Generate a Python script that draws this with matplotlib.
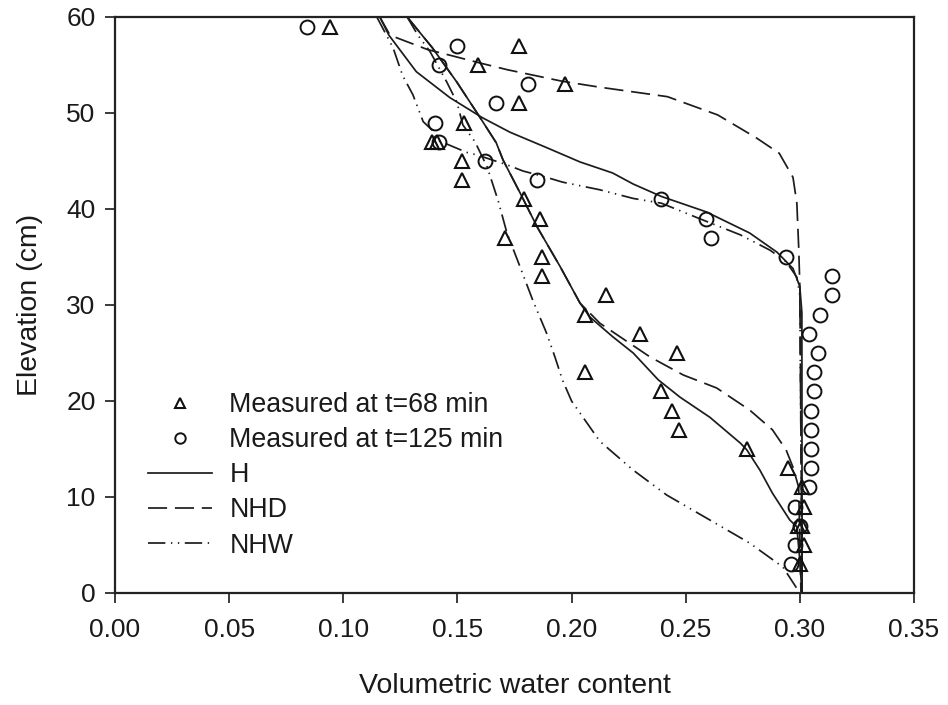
import matplotlib
matplotlib.use("Agg")
import matplotlib.pyplot as plt
from matplotlib.ticker import FormatStrFormatter

plt.rcParams['font.family'] = ['Liberation Sans', 'DejaVu Sans']

# Measured data
t68_x = [0.094, 0.177, 0.159, 0.197, 0.177, 0.153, 0.139, 0.141, 0.152, 0.152, 0.179, 0.186,
         0.171, 0.187, 0.187, 0.215, 0.206, 0.230, 0.246, 0.206, 0.239, 0.244, 0.247, 0.277,
         0.295, 0.301, 0.302, 0.299, 0.301, 0.302, 0.300]
t68_y = [59, 57, 55, 53, 51, 49, 47, 47, 45, 43, 41, 39, 37, 35, 33, 31, 29, 27, 25, 23, 21, 19,
         17, 15, 13, 11, 9, 7, 7, 5, 3]

t125_x = [0.084, 0.150, 0.142, 0.181, 0.167, 0.140, 0.142, 0.162, 0.185, 0.239, 0.259, 0.261,
          0.294, 0.314, 0.314, 0.309, 0.304, 0.308, 0.306, 0.306, 0.305, 0.305, 0.305, 0.305,
          0.304, 0.298, 0.300, 0.298, 0.296]
t125_y = [59, 57, 55, 53, 51, 49, 47, 45, 43, 41, 39, 37, 35, 33, 31, 29, 27, 25, 23, 21, 19, 17,
          15, 13, 11, 9, 7, 5, 3]

# Simulated profiles
h68_x = [0.128, 0.139, 0.1498, 0.160, 0.167, 0.170, 0.1774, 0.185, 0.195, 0.2037, 0.208, 0.218,
         0.227, 0.238, 0.2475, 0.2606, 0.274, 0.2768, 0.2825, 0.288, 0.2956, 0.2987, 0.300, 0.3009]
h68_y = [60, 56.8, 53.2, 49.5, 46.9, 45.1, 41.7, 38.1, 34.0, 30.2, 28.75, 26.7,
         25.0, 22.2, 20.4, 18.3, 15.6, 14.9, 12.8, 10.4, 7.6, 6.9, 3.4, 0]

nhd68_x = [0.128, 0.139, 0.1498, 0.160, 0.167, 0.170, 0.1774, 0.185, 0.195, 0.2037, 0.2124,
           0.2343, 0.249, 0.2636, 0.278, 0.288, 0.294, 0.297, 0.2995, 0.3005]
nhd68_y = [60, 56.8, 53.2, 49.5, 46.9, 45.1, 41.7, 38.1, 34.0, 30.2, 28.1,
           24.6, 22.7, 21.35, 19.06, 17.0, 14.9, 13.1, 11.0, 0]

nhw68_x = [0.128, 0.1327, 0.138, 0.1454, 0.1498, 0.1524, 0.1577, 0.163, 0.1678, 0.1717, 0.1774,
           0.183, 0.189, 0.1927, 0.196, 0.200, 0.2124, 0.227, 0.2417, 0.2606, 0.278, 0.2926, 0.300]
nhw68_y = [60, 58.1, 56.4, 53.2, 51.1, 48.75, 47.0, 44.4, 40.9, 37.5, 34.0,
           30.5, 27.1, 24.6, 22.2, 20.0, 15.8, 12.8, 10.2, 7.6, 5.2, 2.7, 0]

h125_x = [0.116, 0.120, 0.132, 0.1467, 0.161, 0.173, 0.189, 0.2037, 0.218, 0.227, 0.2394, 0.259,
          0.278, 0.290, 0.297, 0.300, 0.3009, 0.301]
h125_y = [60, 58.1, 54.3, 51.6, 49.5, 48.0, 46.4, 44.9, 43.75, 42.6, 41.3, 39.7,
          37.5, 35.5, 33.8, 31.9, 29.2, 0]

nhd125_x = [0.116, 0.1205, 0.137, 0.147, 0.160, 0.172, 0.196, 0.212, 0.242, 0.264, 0.281, 0.291,
            0.297, 0.2987, 0.2995, 0.300, 0.301]
nhd125_y = [60, 58.1, 56.6, 56.0, 55.2, 54.5, 53.3, 52.7, 51.7, 49.8, 47.4, 45.8,
            43.3, 40.6, 36.0, 32.0, 0]

nhw125_x = [0.1147, 0.1218, 0.126, 0.1305, 0.135, 0.139, 0.141, 0.154, 0.159, 0.1717, 0.1787,
            0.189, 0.196, 0.2124, 0.227, 0.2394, 0.256, 0.274, 0.287, 0.294, 0.2987, 0.300, 0.301]
nhw125_y = [60, 56.8, 53.9, 51.9, 49.1, 48.2, 47.2, 45.9, 45.6, 44.6, 43.96,
            43.3, 42.8, 42.0, 41.1, 40.6, 39.0, 37.3, 35.7, 34.5, 32.9, 31.0, 0]

xticks = [0.00, 0.05, 0.10, 0.15, 0.20, 0.25, 0.30, 0.35]
yticks = [0, 10, 20, 30, 40, 50, 60]

fig = plt.figure(figsize=(9.48, 7.05), dpi=100)
ax = fig.add_axes([0.1213, 0.1589, 0.8428, 0.8170])

lc = '#1c1c1c'
lw = 1.25
solid = '-'
dashed = (0, (11, 4.5))
dashdotdot = (0, (10, 3.2, 0.8, 3.2, 0.8, 3.2))

ax.plot(t68_x, t68_y, linestyle='none', marker='^', markersize=9.5, markerfacecolor='none',
        markeredgecolor='#111111', markeredgewidth=1.5, label='Measured at t=68 min', zorder=3)
ax.plot(t125_x, t125_y, linestyle='none', marker='o', markersize=10, markerfacecolor='none',
        markeredgecolor='#111111', markeredgewidth=1.4, label='Measured at t=125 min', zorder=3)

ax.plot(h68_x, h68_y, color=lc, lw=lw, linestyle=solid, label='H')
ax.plot(nhd68_x, nhd68_y, color=lc, lw=lw, linestyle=dashed, label='NHD')
ax.plot(nhw68_x, nhw68_y, color=lc, lw=lw, linestyle=dashdotdot, label='NHW')
ax.plot(h125_x, h125_y, color=lc, lw=lw, linestyle=solid)
ax.plot(nhd125_x, nhd125_y, color=lc, lw=lw, linestyle=dashed)
ax.plot(nhw125_x, nhw125_y, color=lc, lw=lw, linestyle=dashdotdot)

ax.set_xlim(0, 0.35)
ax.set_ylim(0, 60)
ax.set_xticks(xticks)
ax.set_yticks(yticks)
ax.xaxis.set_major_formatter(FormatStrFormatter('%.2f'))
ax.tick_params(axis='both', direction='out', length=7, width=1.2, labelsize=19,
               colors='#1a1a1a')
ax.tick_params(axis='x', pad=11)
ax.tick_params(axis='y', pad=7)
for s in ax.spines.values():
    s.set_linewidth(1.6)
    s.set_color('#222222')

ax.set_xlabel('Volumetric water content', fontsize=20.5, color='#1a1a1a', labelpad=22)
ax.set_ylabel('Elevation (cm)', fontsize=20.5, color='#1a1a1a', labelpad=17)

leg = ax.legend(loc='upper left', bbox_to_anchor=(0.034, 0.358), frameon=False, fontsize=19.3,
                handlelength=2.4, handletextpad=0.65, labelspacing=0.34, markerscale=0.75,
                borderaxespad=0.0, borderpad=0.2)
for t in leg.get_texts():
    t.set_color('#1a1a1a')

fig.savefig('out.png', dpi=100)
